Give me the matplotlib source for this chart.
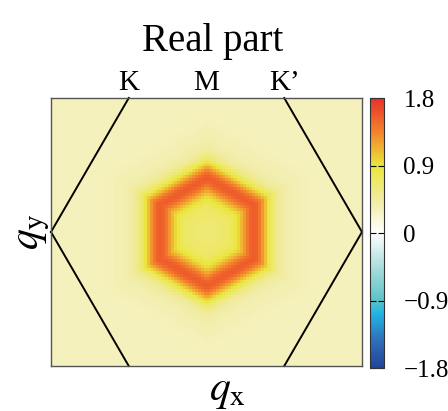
import numpy as np
import matplotlib
matplotlib.use('Agg')
import matplotlib.pyplot as plt
from matplotlib.colors import LinearSegmentedColormap

plt.rcParams['font.family'] = ['Liberation Serif', 'DejaVu Serif']
plt.rcParams['mathtext.fontset'] = 'stix'

# colour scale
cbar_ticks = [-1.8, -0.9, 0, 0.9, 1.8]
cbar_labels = ['\u22121.8', '\u22120.9', '0', '0.9', '1.8']
cmap_stops = [0.0, 0.1, 0.2, 0.25, 0.37, 0.5, 0.62, 0.75, 0.87, 1.0]
cmap_colors = ['#23449a', '#2f6fb8', '#22b4e6', '#5cc3c8', '#a8dcdc',
               '#ffffff', '#f1eca2', '#ebe63c', '#f4872c', '#e8302a']

# field levels (BZ corner = 1)
outer_level = 0.30     # pale background
inner_level = 0.60     # inside the ring
ring_peak = 0.95       # extra on top of the base at the ring
ring_apothem = 0.31    # hexagonal ring, flat left/right sides
ring_width = 0.095
glow_width = 0.25
grid_nx, grid_ny = 104, 90

# Brillouin zone corners and labels on the top edge
bz_x = [1.0, 0.5, -0.5, -1.0, -0.5, 0.5, 1.0]
bz_y = [0.0, np.sqrt(3) / 2, np.sqrt(3) / 2, 0.0, -np.sqrt(3) / 2, -np.sqrt(3) / 2, 0.0]
top_labels = ['K', 'M', 'K\u2019']
top_label_x = [-0.5, 0.0, 0.5]

cmap = LinearSegmentedColormap.from_list('bzr', list(zip(cmap_stops, cmap_colors)))

ymax = np.sqrt(3) / 2
xs = np.linspace(-1, 1, grid_nx)
ys = np.linspace(-ymax, ymax, grid_ny)
X, Y = np.meshgrid(xs, ys)
# hexagonal distance (vertices up/down)
d = np.maximum(np.abs(X), np.abs(X) / 2 + np.abs(Y) * np.sqrt(3) / 2)
step = 1 / (1 + np.exp((d - ring_apothem) / 0.05))
Z = outer_level + (inner_level - outer_level) * step
Z += ring_peak * np.exp(-((d - ring_apothem) / ring_width) ** 2)
Z += 0.15 * np.exp(-((d - ring_apothem) / glow_width) ** 2)

fig = plt.figure(figsize=(4.48, 4.11), dpi=100)
ax = fig.add_axes([51 / 448, 1 - 366 / 411, 311 / 448, 268 / 411])
im = ax.imshow(Z, cmap=cmap, vmin=-1.8, vmax=1.8, origin='lower',
               extent=[-1, 1, -ymax, ymax], interpolation='nearest', aspect='auto')

# slanted edges of the Brillouin zone
for i in [0, 2, 3, 5]:
    ax.plot(bz_x[i:i + 2], bz_y[i:i + 2], color='black', lw=1.4, clip_on=False)

ax.set_xlim(-1, 1)
ax.set_ylim(-ymax, ymax)
ax.set_xticks([])
ax.set_yticks([])
for s in ax.spines.values():
    s.set_color('#555555')
    s.set_linewidth(1.0)

for lab, x in zip(top_labels, top_label_x):
    ax.text(x, ymax + 0.05, lab, ha='center', va='baseline', fontsize=21)

fig.text(213 / 448, 1 - 42 / 411, 'Real part', ha='center', va='center', fontsize=28)
ax.text(0.566, -0.025, r'$q_{\mathrm{x}}$', transform=ax.transAxes,
        ha='center', va='top', fontsize=30)
ax.text(-0.06, 0.5, r'$q_{\mathrm{y}}$', transform=ax.transAxes,
        ha='center', va='center', rotation=90, fontsize=30)

cax = fig.add_axes([370 / 448, 1 - 368 / 411, 14 / 448, 270 / 411])
cb = fig.colorbar(im, cax=cax, ticks=cbar_ticks)
cb.ax.tick_params(direction='in', length=4, width=0.8, left=True, right=True,
                  labelsize=18, pad=14)
cb.outline.set_edgecolor('#333333')
cb.ax.set_yticklabels(cbar_labels)

fig.savefig('out.png', dpi=100)
